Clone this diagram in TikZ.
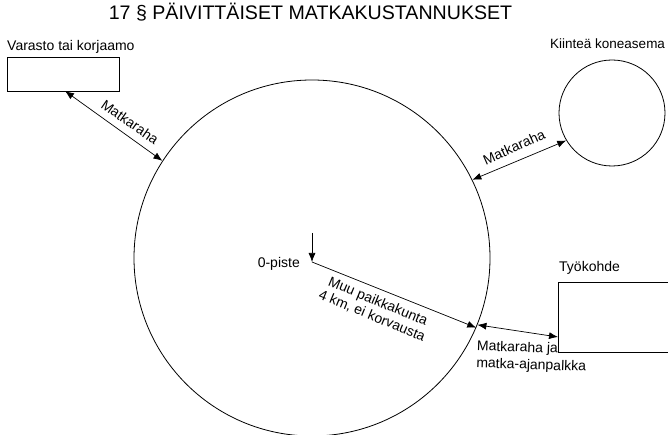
\documentclass[tikz,border=0pt]{standalone}
\usepackage{fontspec}
\setmainfont{Liberation Sans}
\usetikzlibrary{arrows.meta,calc}
\begin{document}
\begin{tikzpicture}[x=1pt,y=-1pt,
  lbl/.style={font=\fontsize{14}{16}\selectfont, inner sep=0pt},
  outl/.style={draw, line width=0.8pt, inner sep=0pt},
  conn/.style={line width=0.7pt, {Latex[length=9pt,width=7pt]}-{Latex[length=9pt,width=7pt]}},
  conn1/.style={line width=0.7pt, -{Latex[length=9pt,width=7pt]}}]
\clip (0,0) rectangle (668,435);
% title
\node[font=\fontsize{19.6}{22}\selectfont, anchor=base, inner sep=0pt] (title) at (310.5,20) {17 § PÄIVITTÄISET MATKAKUSTANNUKSET};
% shapes
\node[outl, circle, minimum size=356pt] (big) at (312,258) {};
\node[outl, circle, minimum size=106pt] (small) at (612,113) {};
\node[outl, rectangle, minimum width=112pt, minimum height=34pt] (box1) at (63,74) {};
\node[outl, rectangle, minimum width=130pt, minimum height=70pt, anchor=north west] (box2) at (558,282) {};
% labels
\node[lbl, anchor=base west] (l1) at (7,50.5) {Varasto tai korjaamo};
\node[lbl, anchor=base west, font=\fontsize{13.5}{16}\selectfont] (l2) at (550,49) {Kiinteä koneasema};
\node[lbl, anchor=base west] (l3) at (559,271) {Työkohde};
\node[lbl, anchor=base east] (l4) at (300,267) {0-piste};
% points
\coordinate (o) at (312,262);
\coordinate (otop) at (312,233);
\coordinate (b1) at (65,91);
\coordinate (b2) at (558,337);
% connectors
\draw[conn] (b1) -- (big.147);
\draw[conn] (big.26) -- (small.211);
\draw[conn1] (otop) -- (o);
\draw[conn1] (o) -- (big.-23.5);
\draw[conn] (big.-22.8) -- (b2);
% connector labels
\node[lbl, rotate=-35] (m1) at (130,122) {Matkaraha};
\node[lbl, rotate=24] (m2) at (514,147) {Matkaraha};
\node[lbl, rotate=-22.5, align=center, font=\fontsize{14}{15.5}\selectfont] (m3) at (375,309) {Muu paikkakunta\\4 km, ei korvausta};
\node[lbl, rotate=-2, align=left, anchor=north west, font=\fontsize{14}{17}\selectfont] (m4) at (477,340) {Matkaraha ja\\matka-ajanpalkka};
\end{tikzpicture}
\end{document}
